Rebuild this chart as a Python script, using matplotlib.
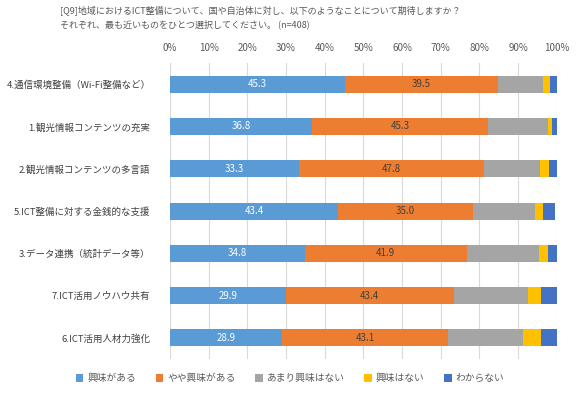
import matplotlib
matplotlib.use("Agg")
from matplotlib import pyplot as plt
import numpy as np

plt.rcParams['font.family'] = ['Noto Sans CJK JP', 'DejaVu Sans']

categories = ['4.通信環境整備（Wi-Fi整備など）',
              '1.観光情報コンテンツの充実',
              '2.観光情報コンテンツの多言語',
              '5.ICT整備に対する金銭的な支援',
              '3.データ連携（統計データ等）',
              '7.ICT活用ノウハウ共有',
              '6.ICT活用人材力強化']
series_names = ['興味がある', 'やや興味がある', 'あまり興味はない', '興味はない', 'わからない']
very = [45.3, 36.8, 33.3, 43.4, 34.8, 29.9, 28.9]
some = [39.5, 45.3, 47.8, 35.0, 41.9, 43.4, 43.1]
little = [11.6, 15.7, 14.6, 15.9, 18.8, 19.3, 19.3]
none_ = [1.9, 0.9, 2.4, 2.2, 2.3, 3.3, 4.6]
unknown = [1.7, 1.3, 1.9, 3.1, 2.2, 4.1, 4.1]
xticks = [0, 10, 20, 30, 40, 50, 60, 70, 80, 90, 100]

colors = ['#5B9BD5', '#ED7D31', '#A5A5A5', '#FFC000', '#4472C4']
label_colors = ['white', '#404040', None, None, None]

fig = plt.figure(figsize=(5.8, 3.99), dpi=100)
ax = fig.add_axes([0.293, 0.100, 0.667, 0.742])

y = np.arange(len(categories))
left = np.zeros(len(categories))
for vals, name, c, lc in zip([very, some, little, none_, unknown], series_names, colors, label_colors):
    vals = np.array(vals)
    bars = ax.barh(y, vals, left=left, height=0.4, color=c, label=name, zorder=3)
    if lc is not None:
        ax.bar_label(bars, labels=['%.1f' % v for v in vals], label_type='center',
                     color=lc, fontsize=7)
    left = left + vals

ax.set_xlim(0, 100)
ax.set_ylim(len(categories) - 0.5, -0.5)
ax.set_yticks(y)
ax.set_yticklabels(categories, fontsize=6.8)
ax.set_xticks(xticks)
ax.set_xticklabels(['%d%%' % t for t in xticks], fontsize=7, color='#595959')
ax.xaxis.tick_top()
ax.tick_params(axis='both', length=0)
ax.tick_params(axis='x', pad=7)
ax.tick_params(axis='y', pad=14, colors='#404040')
ax.grid(axis='x', color='#D9D9D9', linewidth=0.8, zorder=0)
for s in ax.spines.values():
    s.set_visible(False)

fig.text(0.103, 0.974, '[Q9]地域におけるICT整備について、国や自治体に対し、以下のようなことについて期待しますか？',
         fontsize=6.5, color='#595959', va='center')
fig.text(0.103, 0.94, 'それぞれ、最も近いものをひとつ選択してください。 (n=408)',
         fontsize=6.5, color='#595959', va='center')

leg = fig.legend(loc='center', bbox_to_anchor=(0.5, 0.052), ncol=5, frameon=False,
                 fontsize=7, handlelength=0.8, handleheight=0.8, columnspacing=2.0,
                 handletextpad=0.4)
for t in leg.get_texts():
    t.set_color('#595959')

fig.savefig('out.png', dpi=100)
